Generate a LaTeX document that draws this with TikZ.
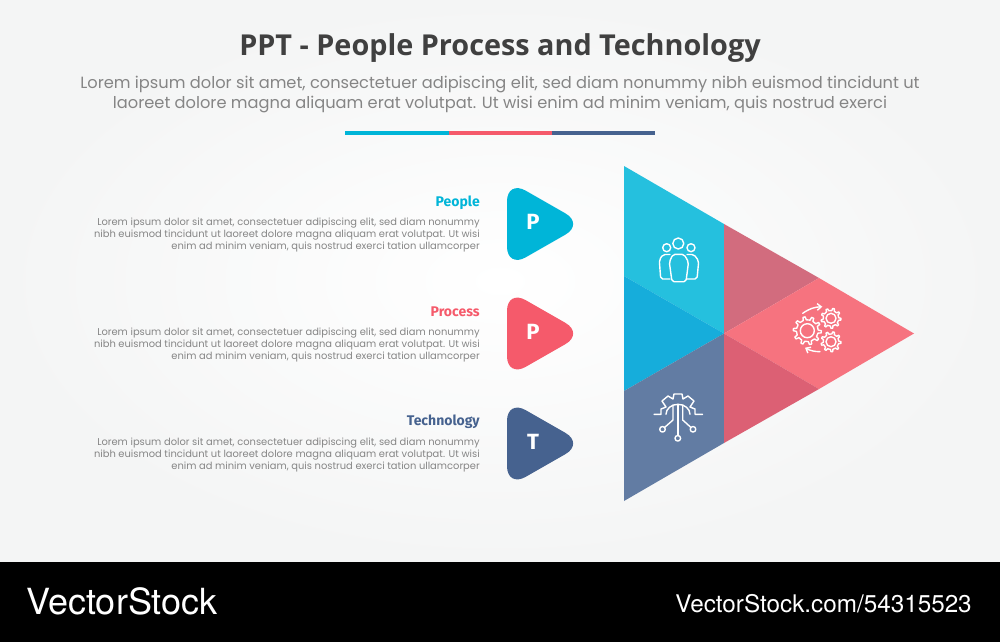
\documentclass[tikz,border=0pt]{standalone}
\usepackage{fontspec}
\setmainfont{Poppins}
\newfontfamily\titlefont{Open Sans}
\newfontfamily\headfont{Fira Sans}
\newfontfamily\footfont{TeX Gyre Heros}
\usetikzlibrary{calc, arrows.meta}
\definecolor{cyanmain}{HTML}{00B5D8}
\definecolor{pinkmain}{HTML}{F55A6B}
\definecolor{navymain}{HTML}{46628F}
\definecolor{greytext}{HTML}{858585}
\definecolor{segcyan}{HTML}{25C0DE}
\definecolor{segblue}{HTML}{16ADDB}
\definecolor{segnavy}{HTML}{627CA3}
\definecolor{segdusty}{HTML}{D26C7E}
\definecolor{segpink}{HTML}{F6737F}
\definecolor{segrose}{HTML}{DC6074}
\definecolor{bgedge}{HTML}{F4F5F5}
\tikzset{
	bodytext/.style={align=right, anchor=north east, text=greytext, font=\fontsize{7.43}{9.05}\selectfont, inner sep=0pt},
	headtext/.style={anchor=east, inner sep=0pt, font=\fontsize{10.5}{12}\headfont\bfseries},
	letter/.style={text=white, inner sep=0pt, font=\fontsize{16.5}{18}\headfont\bfseries},
	iconline/.style={draw=white, line width=1.05pt, line join=round, line cap=round},
}
% gear outline: centre, radius, number of teeth
\newcommand{\gearicon}[4]{
	\pgfmathsetmacro{\stepa}{360/#4}
	\draw[iconline] (#1,#2) circle (#3*0.5);
	\draw[iconline,shift={(#1,#2)}] (0:#3)
	\foreach \k in {1,...,#4}{
		-- ({(\k-1)*\stepa+\stepa*0.25}:#3) -- ({(\k-1)*\stepa+\stepa*0.36}:#3*0.78)
		-- ({(\k-1)*\stepa+\stepa*0.9}:#3*0.78) -- ({(\k-1)*\stepa+\stepa*1.0}:#3)
	} -- cycle;
}
\begin{document}
\begin{tikzpicture}[x=0.75pt, y=-0.75pt]
	\useasboundingbox (0,0) rectangle (1000,642);
	
	% ===== background and footer =====
	\shade[inner color=white, outer color=bgedge] (0,0) rectangle (1000,562);
	\fill[black] (0,562) rectangle (1000,642);
	\node[text=white, anchor=west, inner sep=0pt, font=\fontsize{27}{30}\footfont] (brand) at (26,601) {VectorStock};
	\node[text=white, anchor=east, inner sep=0pt, font=\fontsize{18.2}{20}\footfont] (brandurl) at (972,604) {VectorStock.com/54315523};
	
	% ===== heading =====
	\node[text=black!75, inner sep=0pt, font=\fontsize{21.6}{26}\titlefont\bfseries] (title) at (500,48) {PPT - People Process and Technology};
	\node[text=greytext, align=center, inner sep=0pt, font=\fontsize{12.18}{15}\selectfont] (subtitle) at (500,95)
	{Lorem ipsum dolor sit amet, consectetuer adipiscing elit, sed diam nonummy nibh euismod tincidunt ut\\
		laoreet dolore magna aliquam erat volutpat. Ut wisi enim ad minim veniam, quis nostrud exerci};
	
	% rule under the heading
	\draw[cyanmain, line width=3pt] (345,133) -- (449,133);
	\draw[pinkmain, line width=3pt] (449,133) -- (552,133);
	\draw[navymain, line width=3pt] (552,133) -- (655,133);
	
	% ===== left: three rows =====
	\foreach \y/\colr/\name/\lettr in {224/cyanmain/People/P, 333.5/pinkmain/Process/P, 443.5/navymain/Technology/T}{
		\fill[\colr, rounded corners=16pt] (507,\y-44) -- (584,\y) -- (507,\y+44) -- cycle;
		\node[letter] (letter\name) at (533,\y-2) {\lettr};
		\node[headtext, text=\colr] (head\name) at (480,\y-21.5) {\name};
		\node[bodytext] (body\name) at (480,\y-6)
		{Lorem ipsum dolor sit amet, consectetuer adipiscing elit, sed diam nonummy\\
			nibh euismod tincidunt ut laoreet dolore magna aliquam erat volutpat. Ut wisi\\
			enim ad minim veniam, quis nostrud exerci tation ullamcorper};
	}
	
	% ===== right: big triangle =====
	\fill[segcyan] (624,166) -- (724,224) -- (724,333.5) -- (624,276) -- cycle;
	\fill[segblue] (624,276) -- (724,333.5) -- (624,391) -- cycle;
	\fill[segnavy] (624,391) -- (724,333.5) -- (724,443) -- (624,501) -- cycle;
	\fill[segdusty] (724,224) -- (819,278) -- (724,333.5) -- cycle;
	\fill[segpink] (724,333.5) -- (819,278) -- (914,333.5) -- (819,389) -- cycle;
	\fill[segrose] (724,333.5) -- (819,389) -- (724,443) -- cycle;
	
	% people icon
	\draw[iconline] (678.3,243.5) circle (5.5);
	\draw[iconline] (666.7,247.7) circle (4);
	\draw[iconline] (691,247.7) circle (4);
	\draw[iconline, rounded corners=1.5pt] (673,254.3) -- (684,254.3) -- (688.5,262) -- (686,281.7) -- (672,281.7) -- (669.3,262) -- cycle;
	\draw[iconline, rounded corners=1.5pt] (670,254.5) -- (663,254.5) -- (659.3,260) -- (660.7,279) -- (670,279);
	\draw[iconline, rounded corners=1.5pt] (687,254.5) -- (694,254.5) -- (698.7,261) -- (697,279) -- (687,279);
	
	% gears icon
	\gearicon{807.3}{330.7}{14}{10}
	\gearicon{831}{318.3}{10}{9}
	\gearicon{831}{341.7}{10}{9}
	\draw[iconline, -{Straight Barb[length=3pt,width=5pt]}] (802.7,313.3) to[bend left=16] (822.3,306.7);
	\draw[iconline, -{Straight Barb[length=3pt,width=5pt]}] (820,351.7) to[bend left=14] (805,347.7);
	
	% technology icon
	\draw[iconline] (654,414.3) -- (661,414.3) -- (661,409) -- (666,407) -- (662,401) -- (668,396) -- (673,399) -- (674,394) -- (682,394) -- (683,399) -- (688,396) -- (694,401) -- (690,407) -- (695,409) -- (695,414.3) -- (702.5,414.3);
	\draw[iconline] (666,414.3) arc[start angle=180, end angle=360, x radius=12, y radius=10];
	\draw[iconline] (677.8,404.5) -- (677.8,435.5);
	\draw[iconline] (673,405) -- (673,420) -- (664.5,427.5);
	\draw[iconline] (682.7,405) -- (682.7,420) -- (691,427.5);
	\draw[iconline] (662.5,429.3) circle (2.8);
	\draw[iconline] (693,429.3) circle (2.8);
	\draw[iconline] (677.8,438.3) circle (2.8);
\end{tikzpicture}
\end{document}
